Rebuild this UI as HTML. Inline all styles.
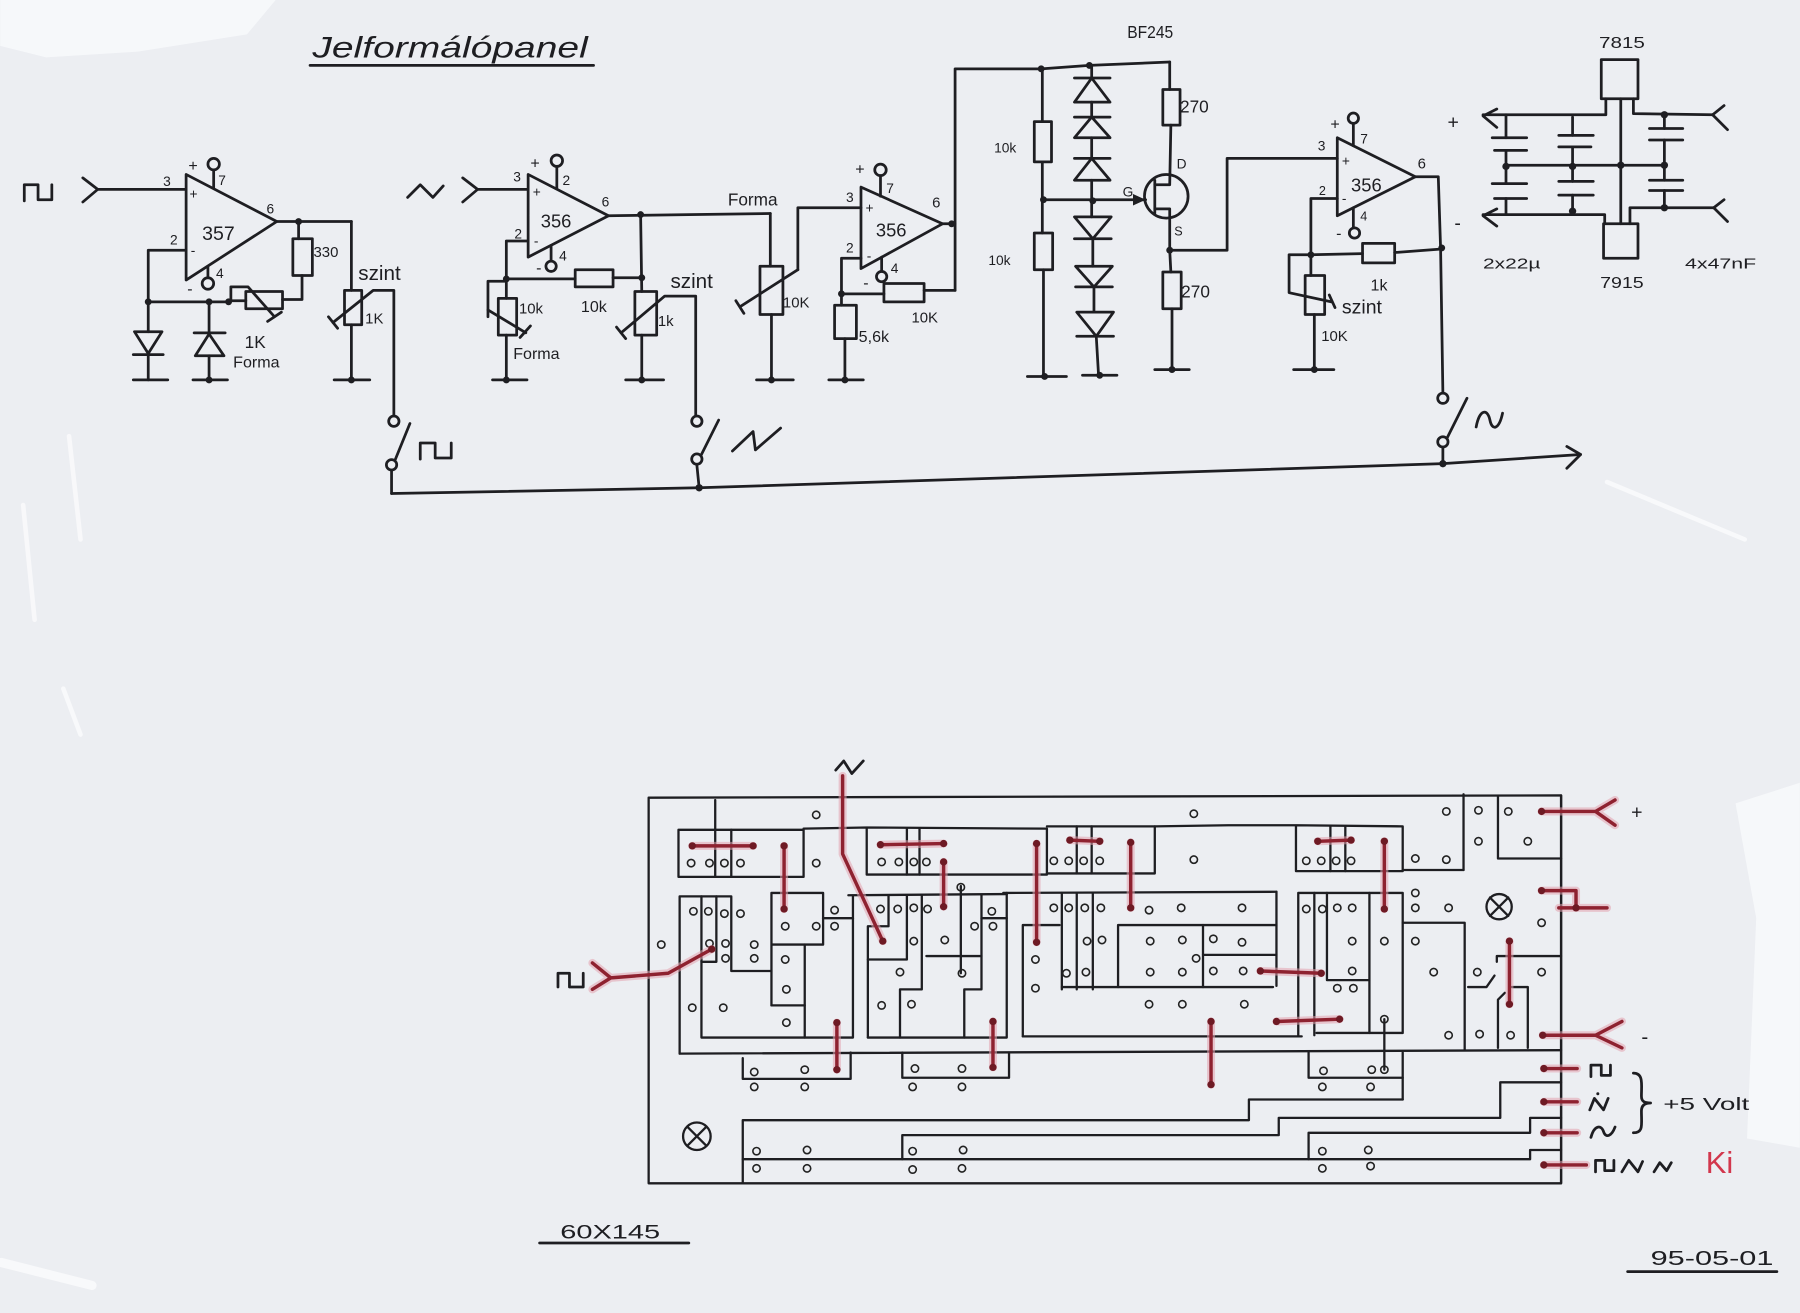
<!DOCTYPE html>
<html><head><meta charset="utf-8">
<style>
html,body{margin:0;padding:0;background:#eceef2;}
svg{display:block;}
.l{stroke:#1e1e22;stroke-width:2.4;fill:none;stroke-linecap:round;stroke-linejoin:round}
.p{stroke:#1e1e22;stroke-width:2;fill:none;stroke-linecap:round;stroke-linejoin:round}
.h{stroke:#222;stroke-width:1.4;fill:none}
.d{fill:#1e1e22}
.rh{stroke:#e3a3ae;stroke-width:7;fill:none;stroke-linecap:round;stroke-linejoin:round;opacity:.55}
.rc{stroke:#8e2230;stroke-width:3;fill:none;stroke-linecap:round;stroke-linejoin:round}
.t{font-family:"Liberation Sans",sans-serif;fill:#1e1e22}
</style></head><body>
<svg width="1800" height="1313" viewBox="0 0 1568 1144" xmlns="http://www.w3.org/2000/svg">
<rect x="0" y="0" width="1568" height="1144" fill="#eceef2"/>
<!-- paper scratches -->
<g fill="#f8f9fb" opacity="0.85">
<polygon points="0,0 240,0 215,30 120,45 40,50 0,40"/>
<polygon points="1512,700 1568,682 1568,1000 1522,992 1530,800"/>
</g>
<g stroke="#fbfbfd" fill="none" stroke-linecap="round" opacity="0.8">
<path d="M1400,420 L1520,470" stroke-width="4"/>
<path d="M20,440 L30,540" stroke-width="4"/>
<path d="M55,600 L70,640" stroke-width="4"/>
<path d="M60,380 L70,470" stroke-width="4"/>
<path d="M1,1100 L80,1120" stroke-width="8"/>
</g>

<!-- Title -->
<text class="t" x="272" y="50" font-size="26" font-style="italic" textLength="240" lengthAdjust="spacingAndGlyphs">Jelformálópanel</text>
<line class="l" x1="270" y1="57" x2="517" y2="57"/>

<!-- ============ STAGE 1 ============ -->
<polyline class="l" points="21,175 21,161 33,161 33,174 45,174 45,161"/>
<polyline class="l" points="72,155 85,165 72,176"/>
<line class="l" x1="85" y1="165" x2="162" y2="165"/>
<polygon class="l" points="162,152 162,244 241,193"/>
<text class="t" x="142" y="162" font-size="12">3</text>
<text class="t" x="165" y="173" font-size="12">+</text>
<text class="t" x="148" y="213" font-size="12">2</text>
<text class="t" x="166" y="222" font-size="12">-</text>
<text class="t" x="176" y="209" font-size="17">357</text>
<text class="t" x="232" y="186" font-size="12">6</text>
<text class="t" x="164" y="149" font-size="14">+</text>
<circle class="l" cx="186" cy="143" r="5"/>
<line class="l" x1="186" y1="148" x2="186" y2="164"/>
<text class="t" x="190" y="161" font-size="12">7</text>
<line class="l" x1="181" y1="232" x2="181" y2="242"/>
<circle class="l" cx="181" cy="247" r="5"/>
<text class="t" x="163" y="256" font-size="14">-</text>
<text class="t" x="188" y="242" font-size="12">4</text>
<line class="l" x1="241" y1="193" x2="306" y2="193"/>
<circle class="d" cx="260" cy="193" r="3"/>
<line class="l" x1="306" y1="193" x2="306" y2="253"/>
<line class="l" x1="260" y1="193" x2="260" y2="208"/>
<rect class="l" x="255" y="208" width="17" height="32"/>
<text class="t" x="273" y="224" font-size="13">330</text>
<polyline class="l" points="263,240 263,261 246,261"/>
<rect class="l" x="214" y="254" width="32" height="15"/>
<line class="l" x1="214" y1="262" x2="199" y2="262"/>
<polyline class="l" points="201,262 201,250 216,250 239,276"/>
<line class="l" x1="233" y1="280" x2="245" y2="272"/>
<polyline class="l" points="162,218 129,218 129,263 199,263"/>
<circle class="d" cx="129" cy="263" r="3"/>
<circle class="d" cx="182" cy="263" r="3"/>
<circle class="d" cx="199" cy="263" r="3"/>
<line class="l" x1="129" y1="263" x2="129" y2="289"/>
<polygon class="l" points="117,289 141,289 129,308"/>
<line class="l" x1="116" y1="309" x2="142" y2="309"/>
<line class="l" x1="129" y1="309" x2="129" y2="331"/>
<line class="l" x1="116" y1="331" x2="146" y2="331"/>
<line class="l" x1="182" y1="263" x2="182" y2="290"/>
<line class="l" x1="169" y1="290" x2="196" y2="290"/>
<polygon class="l" points="182,291 170,310 195,310"/>
<line class="l" x1="182" y1="310" x2="182" y2="331"/>
<line class="l" x1="168" y1="331" x2="198" y2="331"/>
<circle class="d" cx="182" cy="331" r="3"/>
<text class="t" x="213" y="303" font-size="15">1K</text>
<text class="t" x="203" y="320" font-size="14">Forma</text>
<rect class="l" x="300" y="253" width="15" height="30"/>
<line class="l" x1="306" y1="283" x2="306" y2="331"/>
<line class="l" x1="291" y1="331" x2="322" y2="331"/>
<circle class="d" cx="306" cy="331" r="3"/>
<polyline class="l" points="290,281 325,253 343,253 343,362"/>
<line class="l" x1="286" y1="276" x2="294" y2="286"/>
<text class="t" x="312" y="244" font-size="18">szint</text>
<text class="t" x="318" y="282" font-size="13">1K</text>
<circle class="l" cx="343" cy="367" r="4.5"/>
<circle class="l" cx="341" cy="405" r="4.5"/>
<line class="l" x1="344" y1="401" x2="357" y2="369"/>
<line class="l" x1="341" y1="410" x2="341" y2="430"/>
<polyline class="l" points="366,400 366,386 379,386 379,399 393,399 393,386"/>
<polyline class="l" points="341,430 609,425 1257,404 1377,396"/>
<polyline class="l" points="1365,389 1377,396 1365,408"/>

<!-- ============ STAGE 2 ============ -->
<polyline class="l" points="355,172 366,161 377,172 386,162"/>
<polyline class="l" points="403,155 416,165 403,176"/>
<line class="l" x1="416" y1="165" x2="460" y2="165"/>
<polygon class="l" points="460,152 460,224 530,188"/>
<text class="t" x="447" y="158" font-size="12">3</text>
<text class="t" x="464" y="171" font-size="12">+</text>
<text class="t" x="448" y="208" font-size="12">2</text>
<text class="t" x="465" y="214" font-size="12">-</text>
<text class="t" x="471" y="198" font-size="16">356</text>
<text class="t" x="524" y="180" font-size="12">6</text>
<text class="t" x="462" y="147" font-size="14">+</text>
<circle class="l" cx="485" cy="140" r="5"/>
<line class="l" x1="485" y1="145" x2="485" y2="164"/>
<text class="t" x="490" y="161" font-size="12">2</text>
<line class="l" x1="480" y1="214" x2="480" y2="227"/>
<circle class="l" cx="480" cy="232" r="4.5"/>
<text class="t" x="467" y="238" font-size="14">-</text>
<text class="t" x="487" y="227" font-size="12">4</text>
<polyline class="l" points="530,188 600,187 671,186"/>
<circle class="d" cx="558" cy="187" r="3"/>
<polyline class="l" points="460,210 441,210 441,243 501,243"/>
<rect class="l" x="501" y="235" width="33" height="15"/>
<line class="l" x1="534" y1="242" x2="559" y2="242"/>
<line class="l" x1="558" y1="187" x2="559" y2="254"/>
<circle class="d" cx="441" cy="243" r="3"/>
<circle class="d" cx="559" cy="242" r="3"/>
<text class="t" x="506" y="272" font-size="14">10k</text>
<line class="l" x1="441" y1="243" x2="441" y2="260"/>
<rect class="l" x="434" y="260" width="16" height="32"/>
<line class="l" x1="441" y1="292" x2="441" y2="331"/>
<line class="l" x1="429" y1="331" x2="459" y2="331"/>
<circle class="d" cx="441" cy="331" r="3"/>
<polyline class="l" points="441,245 425,245 425,276"/>
<line class="l" x1="425" y1="270" x2="458" y2="290"/>
<line class="l" x1="453" y1="294" x2="462" y2="284"/>
<text class="t" x="452" y="273" font-size="13">10k</text>
<text class="t" x="447" y="313" font-size="14">Forma</text>
<rect class="l" x="553" y="254" width="19" height="38"/>
<line class="l" x1="559" y1="292" x2="559" y2="331"/>
<line class="l" x1="545" y1="331" x2="578" y2="331"/>
<circle class="d" cx="559" cy="331" r="3"/>
<polyline class="l" points="541,290 579,258 606,258 606,362"/>
<line class="l" x1="537" y1="285" x2="545" y2="295"/>
<text class="t" x="584" y="251" font-size="18">szint</text>
<text class="t" x="573" y="284" font-size="13">1k</text>
<circle class="l" cx="607" cy="367" r="4.5"/>
<circle class="l" cx="607" cy="400" r="4.5"/>
<line class="l" x1="611" y1="396" x2="626" y2="366"/>
<line class="l" x1="607" y1="405" x2="609" y2="425"/>
<circle class="d" cx="609" cy="425" r="3.2"/>
<polyline class="l" points="638,393 656,376 658,392 680,373"/>
<!-- forma pot 3 -->
<line class="l" x1="671" y1="186" x2="671" y2="232"/>
<rect class="l" x="662" y="232" width="20" height="42"/>
<line class="l" x1="672" y1="274" x2="672" y2="331"/>
<line class="l" x1="659" y1="331" x2="691" y2="331"/>
<circle class="d" cx="672" cy="331" r="3"/>
<line class="l" x1="645" y1="267" x2="695" y2="235"/>
<line class="l" x1="641" y1="262" x2="648" y2="273"/>
<polyline class="l" points="695,235 695,181 750,181"/>
<text class="t" x="634" y="179" font-size="15">Forma</text>
<text class="t" x="682" y="268" font-size="13">10K</text>

<!-- ============ STAGE 3 ============ -->
<polygon class="l" points="750,163 750,234 821,195"/>
<text class="t" x="737" y="176" font-size="12">3</text>
<text class="t" x="754" y="185" font-size="12">+</text>
<text class="t" x="737" y="220" font-size="12">2</text>
<text class="t" x="755" y="227" font-size="12">-</text>
<text class="t" x="763" y="206" font-size="16">356</text>
<text class="t" x="812" y="181" font-size="13">6</text>
<text class="t" x="745" y="152" font-size="14">+</text>
<circle class="l" cx="767" cy="148" r="5"/>
<line class="l" x1="767" y1="153" x2="767" y2="171"/>
<text class="t" x="772" y="168" font-size="12">7</text>
<line class="l" x1="768" y1="224" x2="768" y2="236"/>
<circle class="l" cx="768" cy="241" r="4.5"/>
<text class="t" x="752" y="251" font-size="14">-</text>
<text class="t" x="776" y="238" font-size="12">4</text>
<line class="l" x1="821" y1="195" x2="832" y2="195"/>
<circle class="d" cx="829" cy="195" r="3"/>
<polyline class="l" points="832,253 832,60 907,60 949,57 1019,54"/>
<circle class="d" cx="907" cy="60" r="3"/>
<circle class="d" cx="949" cy="57" r="3"/>
<line class="l" x1="832" y1="253" x2="805" y2="253"/>
<rect class="l" x="770" y="247" width="35" height="16"/>
<polyline class="l" points="770,256 733,256"/>
<polyline class="l" points="750,225 733,225 733,266"/>
<circle class="d" cx="733" cy="256" r="3"/>
<rect class="l" x="727" y="266" width="19" height="29"/>
<line class="l" x1="736" y1="295" x2="736" y2="331"/>
<line class="l" x1="722" y1="331" x2="752" y2="331"/>
<circle class="d" cx="736" cy="331" r="3"/>
<text class="t" x="794" y="281" font-size="13">10K</text>
<text class="t" x="748" y="298" font-size="14">5,6k</text>

<!-- divider column -->
<line class="l" x1="908" y1="60" x2="908" y2="106"/>
<rect class="l" x="901" y="106" width="15" height="35"/>
<line class="l" x1="908" y1="141" x2="908" y2="203"/>
<rect class="l" x="901" y="203" width="16" height="32"/>
<line class="l" x1="909" y1="235" x2="909" y2="328"/>
<line class="l" x1="895" y1="328" x2="929" y2="328"/>
<circle class="d" cx="910" cy="328" r="3"/>
<text class="t" x="866" y="133" font-size="12">10k</text>
<text class="t" x="861" y="231" font-size="12">10k</text>
<!-- diodes -->
<g>
<line class="l" x1="951" y1="57" x2="951" y2="68"/>
<line class="l" x1="936" y1="68" x2="967" y2="68"/><polygon class="l" points="951,68 936,89 967,89"/>
<line class="l" x1="951" y1="89" x2="951" y2="102"/>
<line class="l" x1="936" y1="102" x2="967" y2="102"/><polygon class="l" points="951,102 936,120 967,120"/>
<line class="l" x1="951" y1="120" x2="951" y2="138"/>
<line class="l" x1="936" y1="138" x2="967" y2="138"/><polygon class="l" points="951,138 936,157 967,157"/>
<line class="l" x1="951" y1="157" x2="951" y2="189"/>
<polygon class="l" points="936,189 968,189 952,208"/><line class="l" x1="936" y1="208" x2="968" y2="208"/>
<line class="l" x1="952" y1="208" x2="952" y2="232"/>
<polygon class="l" points="937,232 969,232 953,250"/><line class="l" x1="937" y1="250" x2="969" y2="250"/>
<line class="l" x1="953" y1="250" x2="953" y2="272"/>
<polygon class="l" points="938,272 970,272 955,293"/><line class="l" x1="938" y1="293" x2="970" y2="293"/>
<line class="l" x1="955" y1="293" x2="957" y2="327"/>
<line class="l" x1="943" y1="327" x2="973" y2="327"/>
<circle class="d" cx="958" cy="327" r="3"/>
</g>
<line class="l" x1="908" y1="174" x2="998" y2="174"/>
<circle class="d" cx="909" cy="174" r="3"/>
<circle class="d" cx="952" cy="175" r="3"/>
<polygon class="d" points="987,169 998,174 987,179"/>
<circle class="l" cx="1016" cy="171" r="19"/>
<line class="l" x1="1006" y1="157" x2="1006" y2="186" stroke-width="3"/>
<polyline class="l" points="1006,161 1019,161 1020,109"/>
<polyline class="l" points="1006,182 1019,182 1019,218"/>
<line class="l" x1="1019" y1="54" x2="1019" y2="78"/>
<rect class="l" x="1013" y="78" width="15" height="31"/>
<circle class="d" cx="1019" cy="218" r="3"/>
<line class="l" x1="1019" y1="218" x2="1020" y2="237"/>
<rect class="l" x="1013" y="237" width="16" height="32"/>
<line class="l" x1="1021" y1="269" x2="1021" y2="322"/>
<line class="l" x1="1006" y1="322" x2="1036" y2="322"/>
<circle class="d" cx="1021" cy="322" r="3"/>
<text class="t" x="1028" y="98" font-size="15">270</text>
<text class="t" x="1029" y="259" font-size="15">270</text>
<text class="t" x="1025" y="147" font-size="12">D</text>
<text class="t" x="978" y="171" font-size="12">G</text>
<text class="t" x="1023" y="205" font-size="11">S</text>
<text class="t" x="982" y="33" font-size="15" textLength="40" lengthAdjust="spacingAndGlyphs">BF245</text>

<!-- ============ STAGE 4 ============ -->
<polyline class="l" points="1019,218 1069,218 1069,138 1165,138"/>
<polygon class="l" points="1165,120 1165,188 1233,154"/>
<text class="t" x="1148" y="131" font-size="12">3</text>
<text class="t" x="1169" y="144" font-size="12">+</text>
<text class="t" x="1149" y="170" font-size="11">2</text>
<text class="t" x="1169" y="177" font-size="12">-</text>
<text class="t" x="1177" y="167" font-size="16">356</text>
<text class="t" x="1235" y="147" font-size="13">6</text>
<text class="t" x="1159" y="113" font-size="14">+</text>
<circle class="l" cx="1179" cy="103" r="4.5"/>
<line class="l" x1="1179" y1="108" x2="1179" y2="127"/>
<text class="t" x="1185" y="125" font-size="12">7</text>
<line class="l" x1="1179" y1="181" x2="1179" y2="198"/>
<circle class="l" cx="1180" cy="203" r="4.5"/>
<text class="t" x="1164" y="208" font-size="14">-</text>
<text class="t" x="1185" y="192" font-size="11">4</text>
<polyline class="l" points="1233,154 1253,154 1255,216 1257,342"/>
<circle class="d" cx="1256" cy="216" r="3"/>
<polyline class="l" points="1165,173 1142,173 1142,222 1187,221"/>
<rect class="l" x="1187" y="212" width="28" height="17"/>
<line class="l" x1="1215" y1="220" x2="1256" y2="217"/>
<circle class="d" cx="1142" cy="222" r="3"/>
<line class="l" x1="1142" y1="222" x2="1142" y2="240"/>
<rect class="l" x="1137" y="240" width="17" height="34"/>
<line class="l" x1="1145" y1="274" x2="1145" y2="322"/>
<line class="l" x1="1127" y1="322" x2="1162" y2="322"/>
<circle class="d" cx="1145" cy="322" r="3"/>
<polyline class="l" points="1142,222 1123,222 1123,255 1160,263"/>
<line class="l" x1="1158" y1="257" x2="1163" y2="268"/>
<text class="t" x="1194" y="253" font-size="14">1k</text>
<text class="t" x="1169" y="273" font-size="17">szint</text>
<text class="t" x="1151" y="297" font-size="13">10K</text>
<circle class="l" cx="1257" cy="347" r="4.5"/>
<circle class="l" cx="1257" cy="385" r="4.5"/>
<line class="l" x1="1261" y1="381" x2="1278" y2="347"/>
<line class="l" x1="1257" y1="390" x2="1257" y2="404"/>
<circle class="d" cx="1257" cy="404" r="3.2"/>
<path class="l" d="M1286,372 C1289,356 1296,356 1298,366 C1300,376 1306,374 1309,360"/>

<!-- ============ POWER ============ -->
<text class="t" x="1393" y="42" font-size="14" textLength="40" lengthAdjust="spacingAndGlyphs">7815</text>
<rect class="l" x="1395" y="52" width="32" height="34"/>
<text class="t" x="1394" y="251" font-size="14" textLength="38" lengthAdjust="spacingAndGlyphs">7915</text>
<rect class="l" x="1397" y="195" width="30" height="30"/>
<line class="l" x1="1412" y1="86" x2="1412" y2="195"/>
<polyline class="l" points="1399,86 1399,100 1292,100"/>
<polyline class="l" points="1304,95 1292,101 1304,111"/>
<polyline class="l" points="1423,86 1423,99 1492,100"/>
<line class="l" x1="1492" y1="100" x2="1502" y2="92"/>
<line class="l" x1="1492" y1="100" x2="1505" y2="113"/>
<polyline class="l" points="1292,187 1398,187 1398,195"/>
<polyline class="l" points="1304,182 1292,188 1304,197"/>
<polyline class="l" points="1420,195 1420,181 1493,181"/>
<line class="l" x1="1493" y1="181" x2="1502" y2="174"/>
<line class="l" x1="1493" y1="181" x2="1505" y2="193"/>
<line class="l" x1="1312" y1="144" x2="1450" y2="144"/>
<circle class="d" cx="1312" cy="145" r="3.2"/>
<circle class="d" cx="1370" cy="145" r="3.2"/>
<circle class="d" cx="1412" cy="144" r="3.2"/>
<circle class="d" cx="1450" cy="144" r="3.2"/>
<line class="l" x1="1312" y1="100" x2="1312" y2="120"/>
<line class="l" x1="1300" y1="120" x2="1330" y2="120"/>
<line class="l" x1="1302" y1="131" x2="1330" y2="131"/>
<line class="l" x1="1312" y1="131" x2="1312" y2="160"/>
<line class="l" x1="1300" y1="160" x2="1330" y2="160"/>
<line class="l" x1="1302" y1="173" x2="1330" y2="173"/>
<line class="l" x1="1312" y1="173" x2="1312" y2="187"/>
<line class="l" x1="1370" y1="102" x2="1370" y2="118"/>
<line class="l" x1="1358" y1="118" x2="1388" y2="118"/>
<line class="l" x1="1358" y1="128" x2="1386" y2="128"/>
<line class="l" x1="1370" y1="128" x2="1370" y2="158"/>
<line class="l" x1="1358" y1="158" x2="1388" y2="158"/>
<line class="l" x1="1358" y1="170" x2="1388" y2="170"/>
<line class="l" x1="1370" y1="170" x2="1370" y2="184"/>
<circle class="d" cx="1370" cy="184" r="3.2"/>
<circle class="d" cx="1450" cy="100" r="3.2"/>
<line class="l" x1="1450" y1="100" x2="1450" y2="112"/>
<line class="l" x1="1437" y1="112" x2="1466" y2="112"/>
<line class="l" x1="1437" y1="122" x2="1466" y2="122"/>
<line class="l" x1="1450" y1="122" x2="1450" y2="157"/>
<line class="l" x1="1437" y1="157" x2="1466" y2="157"/>
<line class="l" x1="1437" y1="166" x2="1466" y2="166"/>
<line class="l" x1="1450" y1="166" x2="1450" y2="181"/>
<circle class="d" cx="1450" cy="181" r="3.2"/>
<text class="t" x="1261" y="112" font-size="17">+</text>
<text class="t" x="1267" y="200" font-size="17">-</text>
<text class="t" x="1292" y="234" font-size="13" textLength="50" lengthAdjust="spacingAndGlyphs">2x22µ</text>
<text class="t" x="1468" y="234" font-size="13" textLength="62" lengthAdjust="spacingAndGlyphs">4x47nF</text>

<!-- ============ PCB ============ -->
<g>
<polyline class="p" points="565,695 1360,693 1360,1031 565,1031 565,695" stroke-width="2.2"/>
<line class="p" x1="1360" y1="693" x2="1360" y2="1031" stroke-width="3"/>
<!-- top row -->
<line class="p" x1="623" y1="697" x2="623" y2="764"/>
<polyline class="p" points="591,723 700,723 700,764 591,764 591,723"/>
<line class="p" x1="637" y1="723" x2="637" y2="764"/>
<polyline class="p" points="700,722 755,721 912,722 912,762 755,762 755,722"/>
<line class="p" x1="790" y1="722" x2="790" y2="762"/>
<line class="p" x1="801" y1="722" x2="801" y2="762"/>
<polyline class="p" points="912,720 1006,720 1006,761 912,761"/>
<line class="p" x1="938" y1="720" x2="938" y2="761"/>
<line class="p" x1="951" y1="720" x2="951" y2="761"/>
<polyline class="p" points="1006,720 1070,719 1129,719 1222,720 1222,759 1129,759 1129,720"/>
<line class="p" x1="1159" y1="720" x2="1159" y2="759"/>
<line class="p" x1="1172" y1="720" x2="1172" y2="759"/>
<line class="p" x1="1222" y1="758" x2="1275" y2="758"/>
<line class="p" x1="1275" y1="692" x2="1275" y2="758"/>
<polyline class="p" points="1305,694 1305,748 1360,748"/>
<!-- module 1 -->
<polyline class="p" points="592,918 592,781 637,781 637,846 672,846"/>
<polyline class="p" points="611,781 611,904 743,904 743,781"/>
<polyline class="p" points="624,781 624,838 611,838"/>
<polyline class="p" points="672,876 672,778 717,778 717,823 672,823"/>
<polyline class="p" points="672,876 701,876"/>
<line class="p" x1="701" y1="823" x2="701" y2="904"/>
<line class="p" x1="717" y1="800" x2="743" y2="800"/>
<line class="p" x1="739" y1="780" x2="877" y2="779"/>
<!-- long line -->
<line class="p" x1="592" y1="918" x2="1360" y2="915"/>
<!-- module 2 -->
<polyline class="p" points="756,904 756,807 774,807 774,780"/>
<polyline class="p" points="790,780 790,836 756,836"/>
<polyline class="p" points="803,780 803,862 784,862 784,904"/>
<line class="p" x1="807" y1="833" x2="855" y2="833"/>
<polyline class="p" points="855,780 855,862 840,862 840,904"/>
<line class="p" x1="837" y1="772" x2="837" y2="848" stroke-width="1.4"/>
<line class="p" x1="855" y1="800" x2="877" y2="800"/>
<polyline class="p" points="877,778 877,904 756,904"/>
<line class="p" x1="874" y1="778" x2="1112" y2="777"/>
<!-- module 3 -->
<polyline class="p" points="891,903 891,806 923,806"/>
<line class="p" x1="925" y1="778" x2="925" y2="862"/>
<line class="p" x1="938" y1="778" x2="938" y2="862"/>
<line class="p" x1="952" y1="778" x2="952" y2="862"/>
<line class="p" x1="925" y1="860" x2="1109" y2="860"/>
<line class="p" x1="891" y1="903" x2="1134" y2="903"/>
<polyline class="p" points="1112,777 1112,859"/>
<polyline class="p" points="974,860 974,806 1112,806"/>
<line class="p" x1="1048" y1="806" x2="1048" y2="860"/>
<line class="p" x1="1048" y1="832" x2="1112" y2="832"/>
<!-- right module -->
<polyline class="p" points="1131,903 1131,778 1222,778 1222,900 1147,900"/>
<line class="p" x1="1145" y1="778" x2="1145" y2="902"/>
<polyline class="p" points="1156,778 1156,854 1193,854"/>
<line class="p" x1="1193" y1="778" x2="1193" y2="900"/>
<polyline class="p" points="1222,804 1276,804 1276,915"/>
<polyline class="p" points="1279,860 1295,860 1302,850"/>
<polyline class="p" points="1304,838 1304,833 1360,833"/>
<polyline class="p" points="1311,865 1305,871 1305,913"/>
<polyline class="p" points="1317,860 1331,860 1331,913"/>
<!-- bottom sub boxes -->
<polyline class="p" points="647,922 647,940 741,940 741,917"/>
<polyline class="p" points="786,917 786,939 879,939 879,917"/>
<polyline class="p" points="1140,917 1140,939 1222,939"/>
<line class="p" x1="1222" y1="917" x2="1222" y2="958"/>
<line class="p" x1="1206" y1="888" x2="1206" y2="932" stroke-width="1.4"/>
<!-- bottom traces -->
<polyline class="p" points="1222,958 1088,958 1088,976 647,976 647,1031"/>
<polyline class="p" points="1360,943 1307,943 1307,974 1114,974 1114,989 786,989 786,1010"/>
<polyline class="p" points="1360,974 1333,974 1333,987 1140,987 1140,1010"/>
<polyline class="p" points="647,1010 1333,1010 1333,1002 1360,1002"/>
</g>
<!-- holes -->
<g class="h">
<circle cx="602" cy="752" r="3.2"/><circle cx="618" cy="752" r="3.2"/><circle cx="631" cy="752" r="3.2"/><circle cx="645" cy="752" r="3.2"/>
<circle cx="711" cy="710" r="3.2"/><circle cx="711" cy="752" r="3.2"/>
<circle cx="768" cy="751" r="3.2"/><circle cx="783" cy="751" r="3.2"/><circle cx="796" cy="751" r="3.2"/><circle cx="807" cy="751" r="3.2"/>
<circle cx="918" cy="750" r="3.2"/><circle cx="931" cy="750" r="3.2"/><circle cx="944" cy="750" r="3.2"/><circle cx="958" cy="750" r="3.2"/>
<circle cx="1040" cy="709" r="3.2"/><circle cx="1040" cy="749" r="3.2"/>
<circle cx="1138" cy="750" r="3.2"/><circle cx="1151" cy="750" r="3.2"/><circle cx="1164" cy="750" r="3.2"/><circle cx="1177" cy="750" r="3.2"/>
<circle cx="1233" cy="748" r="3.2"/><circle cx="1260" cy="749" r="3.2"/>
<circle cx="1260" cy="707" r="3.2"/><circle cx="1288" cy="706" r="3.2"/><circle cx="1314" cy="707" r="3.2"/><circle cx="1288" cy="733" r="3.2"/><circle cx="1331" cy="733" r="3.2"/>
<circle cx="604" cy="794" r="3.2"/><circle cx="617" cy="794" r="3.2"/><circle cx="631" cy="796" r="3.2"/><circle cx="645" cy="796" r="3.2"/>
<circle cx="618" cy="822" r="3.2"/><circle cx="632" cy="822" r="3.2"/><circle cx="632" cy="835" r="3.2"/><circle cx="657" cy="823" r="3.2"/><circle cx="657" cy="835" r="3.2"/>
<circle cx="684" cy="807" r="3.2"/><circle cx="711" cy="807" r="3.2"/><circle cx="727" cy="793" r="3.2"/><circle cx="727" cy="807" r="3.2"/>
<circle cx="684" cy="836" r="3.2"/><circle cx="685" cy="862" r="3.2"/><circle cx="685" cy="891" r="3.2"/><circle cx="603" cy="878" r="3.2"/><circle cx="630" cy="878" r="3.2"/><circle cx="576" cy="823" r="3.2"/>
<circle cx="767" cy="792" r="3.2"/><circle cx="782" cy="792" r="3.2"/><circle cx="796" cy="791" r="3.2"/><circle cx="808" cy="792" r="3.2"/>
<circle cx="837" cy="773" r="3.2"/><circle cx="849" cy="807" r="3.2"/><circle cx="864" cy="794" r="3.2"/><circle cx="865" cy="807" r="3.2"/>
<circle cx="796" cy="820" r="3.2"/><circle cx="823" cy="819" r="3.2"/><circle cx="784" cy="847" r="3.2"/><circle cx="838" cy="848" r="3.2"/><circle cx="768" cy="876" r="3.2"/><circle cx="794" cy="875" r="3.2"/>
<circle cx="902" cy="836" r="3.2"/><circle cx="902" cy="861" r="3.2"/>
<circle cx="918" cy="791" r="3.2"/><circle cx="931" cy="791" r="3.2"/><circle cx="945" cy="791" r="3.2"/><circle cx="959" cy="791" r="3.2"/>
<circle cx="947" cy="820" r="3.2"/><circle cx="960" cy="819" r="3.2"/><circle cx="929" cy="848" r="3.2"/><circle cx="946" cy="847" r="3.2"/>
<circle cx="1001" cy="793" r="3.2"/><circle cx="1029" cy="791" r="3.2"/><circle cx="1082" cy="791" r="3.2"/>
<circle cx="1002" cy="820" r="3.2"/><circle cx="1030" cy="819" r="3.2"/><circle cx="1057" cy="818" r="3.2"/><circle cx="1082" cy="821" r="3.2"/><circle cx="1042" cy="835" r="3.2"/>
<circle cx="1002" cy="847" r="3.2"/><circle cx="1030" cy="847" r="3.2"/><circle cx="1057" cy="846" r="3.2"/><circle cx="1083" cy="846" r="3.2"/>
<circle cx="1001" cy="875" r="3.2"/><circle cx="1030" cy="875" r="3.2"/><circle cx="1084" cy="875" r="3.2"/>
<circle cx="1138" cy="792" r="3.2"/><circle cx="1152" cy="792" r="3.2"/><circle cx="1165" cy="791" r="3.2"/><circle cx="1178" cy="791" r="3.2"/>
<circle cx="1178" cy="820" r="3.2"/><circle cx="1206" cy="820" r="3.2"/><circle cx="1178" cy="846" r="3.2"/><circle cx="1165" cy="861" r="3.2"/><circle cx="1179" cy="861" r="3.2"/><circle cx="1206" cy="888" r="3.2"/>
<circle cx="1233" cy="778" r="3.2"/><circle cx="1233" cy="791" r="3.2"/><circle cx="1262" cy="791" r="3.2"/><circle cx="1233" cy="820" r="3.2"/>
<circle cx="1249" cy="847" r="3.2"/><circle cx="1287" cy="847" r="3.2"/><circle cx="1343" cy="847" r="3.2"/><circle cx="1343" cy="804" r="3.2"/>
<circle cx="1262" cy="902" r="3.2"/><circle cx="1289" cy="901" r="3.2"/><circle cx="1316" cy="902" r="3.2"/>
<circle cx="657" cy="934" r="3.2"/><circle cx="701" cy="932" r="3.2"/><circle cx="657" cy="947" r="3.2"/><circle cx="701" cy="947" r="3.2"/>
<circle cx="797" cy="931" r="3.2"/><circle cx="838" cy="931" r="3.2"/><circle cx="795" cy="947" r="3.2"/><circle cx="838" cy="947" r="3.2"/>
<circle cx="1153" cy="933" r="3.2"/><circle cx="1195" cy="932" r="3.2"/><circle cx="1206" cy="932" r="3.2"/><circle cx="1152" cy="947" r="3.2"/><circle cx="1194" cy="947" r="3.2"/>
<circle cx="659" cy="1003" r="3.2"/><circle cx="703" cy="1002" r="3.2"/><circle cx="659" cy="1018" r="3.2"/><circle cx="703" cy="1018" r="3.2"/>
<circle cx="795" cy="1003" r="3.2"/><circle cx="839" cy="1002" r="3.2"/><circle cx="795" cy="1019" r="3.2"/><circle cx="838" cy="1018" r="3.2"/>
<circle cx="1152" cy="1003" r="3.2"/><circle cx="1192" cy="1002" r="3.2"/><circle cx="1152" cy="1018" r="3.2"/><circle cx="1194" cy="1016" r="3.2"/>
</g>
<!-- crossed circles -->
<g class="p">
<circle cx="1306" cy="790" r="11"/><line x1="1298" y1="782" x2="1314" y2="798"/><line x1="1314" y1="782" x2="1298" y2="798"/>
<circle cx="607" cy="990" r="12"/><line x1="599" y1="982" x2="615" y2="998"/><line x1="615" y1="982" x2="599" y2="998"/>
</g>
<!-- red jumpers -->
<g>
<path class="rh" d="M603,737 L656,737 M683,737 L683,792 M767,736 L822,735 M822,751 L822,790 M903,735 L903,821 M932,732 L958,733 M985,734 L985,791 M1148,733 L1177,732 M1206,733 L1206,792 M734,676 L734,744 L769,820 M516,839 L532,852 L516,862 M532,852 L582,848 L620,827 M1343,707 L1390,707 L1407,697 M1390,707 L1407,719 M1343,776 L1373,776 L1373,791 M1358,791 L1400,791 M1344,902 L1390,902 L1413,890 M1390,902 L1413,913 M1345,931 L1374,931 M1345,960 L1374,960 M1345,987 L1374,987 M1345,1015 L1382,1015 M1055,890 L1055,945 M1098,846 L1151,848 M1112,890 L1167,888 M1315,820 L1315,875 M729,891 L729,932 M865,890 L865,930"/>
<path class="rc" d="M603,737 L656,737 M683,737 L683,792 M767,736 L822,735 M822,751 L822,790 M903,735 L903,821 M932,732 L958,733 M985,734 L985,791 M1148,733 L1177,732 M1206,733 L1206,792 M734,676 L734,744 L769,820 M516,839 L532,852 L516,862 M532,852 L582,848 L620,827 M1343,707 L1390,707 L1407,697 M1390,707 L1407,719 M1343,776 L1373,776 L1373,791 M1358,791 L1400,791 M1344,902 L1390,902 L1413,890 M1390,902 L1413,913 M1345,931 L1374,931 M1345,960 L1374,960 M1345,987 L1374,987 M1345,1015 L1382,1015 M1055,890 L1055,945 M1098,846 L1151,848 M1112,890 L1167,888 M1315,820 L1315,875 M729,891 L729,932 M865,890 L865,930"/>
<g fill="#6e1a24">
<circle cx="603" cy="737" r="3.2"/><circle cx="656" cy="737" r="3.2"/><circle cx="683" cy="737" r="3.2"/><circle cx="683" cy="792" r="3.2"/>
<circle cx="767" cy="736" r="3.2"/><circle cx="822" cy="735" r="3.2"/><circle cx="822" cy="751" r="3.2"/><circle cx="822" cy="790" r="3.2"/>
<circle cx="903" cy="735" r="3.2"/><circle cx="903" cy="821" r="3.2"/><circle cx="932" cy="732" r="3.2"/><circle cx="958" cy="733" r="3.2"/>
<circle cx="985" cy="734" r="3.2"/><circle cx="985" cy="791" r="3.2"/><circle cx="1148" cy="733" r="3.2"/><circle cx="1177" cy="732" r="3.2"/>
<circle cx="1206" cy="733" r="3.2"/><circle cx="1206" cy="792" r="3.2"/><circle cx="769" cy="820" r="3.2"/><circle cx="620" cy="827" r="3.2"/>
<circle cx="1343" cy="707" r="3.2"/><circle cx="1343" cy="776" r="3.2"/><circle cx="1373" cy="791" r="3.2"/><circle cx="1344" cy="902" r="3.2"/>
<circle cx="1345" cy="931" r="3.2"/><circle cx="1345" cy="960" r="3.2"/><circle cx="1345" cy="987" r="3.2"/><circle cx="1345" cy="1015" r="3.2"/>
<circle cx="1055" cy="890" r="3.2"/><circle cx="1055" cy="945" r="3.2"/><circle cx="1098" cy="846" r="3.2"/><circle cx="1151" cy="848" r="3.2"/>
<circle cx="1112" cy="890" r="3.2"/><circle cx="1167" cy="888" r="3.2"/><circle cx="1315" cy="820" r="3.2"/><circle cx="1315" cy="875" r="3.2"/>
<circle cx="729" cy="891" r="3.2"/><circle cx="729" cy="932" r="3.2"/><circle cx="865" cy="890" r="3.2"/><circle cx="865" cy="930" r="3.2"/>
</g>
</g>
<!-- PCB labels -->
<polyline class="l" points="728,671 735,663 742,674 752,663"/>
<polyline class="l" points="486,860 486,848 496,848 496,860 508,860 508,848"/>
<text class="t" x="1421" y="713" font-size="17">+</text>
<text class="t" x="1430" y="909" font-size="18">-</text>
<polyline class="l" points="1386,938 1386,928 1395,928 1395,937 1403,937 1403,928" stroke-width="1.8"/>
<polyline class="l" points="1385,967 1389,957 1397,967 1401,957" stroke-width="1.8"/>
<circle class="d" cx="1392" cy="953" r="1.3"/>
<path class="l" d="M1386,991 C1389,980 1395,980 1397,986 C1399,992 1404,990 1407,982" stroke-width="1.8"/>
<polyline class="l" points="1390,1021 1390,1011 1398,1011 1398,1020 1406,1020 1406,1011" stroke-width="1.8"/>
<polyline class="l" points="1413,1021 1419,1011 1427,1021 1431,1012" stroke-width="1.8"/>
<polyline class="l" points="1441,1021 1446,1013 1452,1020 1456,1013" stroke-width="1.8"/>
<path class="l" d="M1423,935 C1432,935 1430,945 1430,955 C1430,960 1433,961 1438,961 C1433,961 1430,963 1430,968 C1430,980 1432,987 1423,987" stroke-width="1.8"/>
<text class="t" x="1449" y="967" font-size="15" textLength="75" lengthAdjust="spacingAndGlyphs">+5 Volt</text>
<text x="1486" y="1022" font-size="27" font-family="Liberation Sans, sans-serif" fill="#d2374d">Ki</text>

<!-- bottom labels -->
<text class="t" x="488" y="1079" font-size="17" textLength="87" lengthAdjust="spacingAndGlyphs">60X145</text>
<line class="l" x1="470" y1="1083" x2="600" y2="1083" stroke-width="2.6"/>
<text class="t" x="1438" y="1102" font-size="18" textLength="107" lengthAdjust="spacingAndGlyphs">95-05-01</text>
<line class="l" x1="1418" y1="1108" x2="1548" y2="1108" stroke-width="2.6"/>
</svg>
</body></html>
